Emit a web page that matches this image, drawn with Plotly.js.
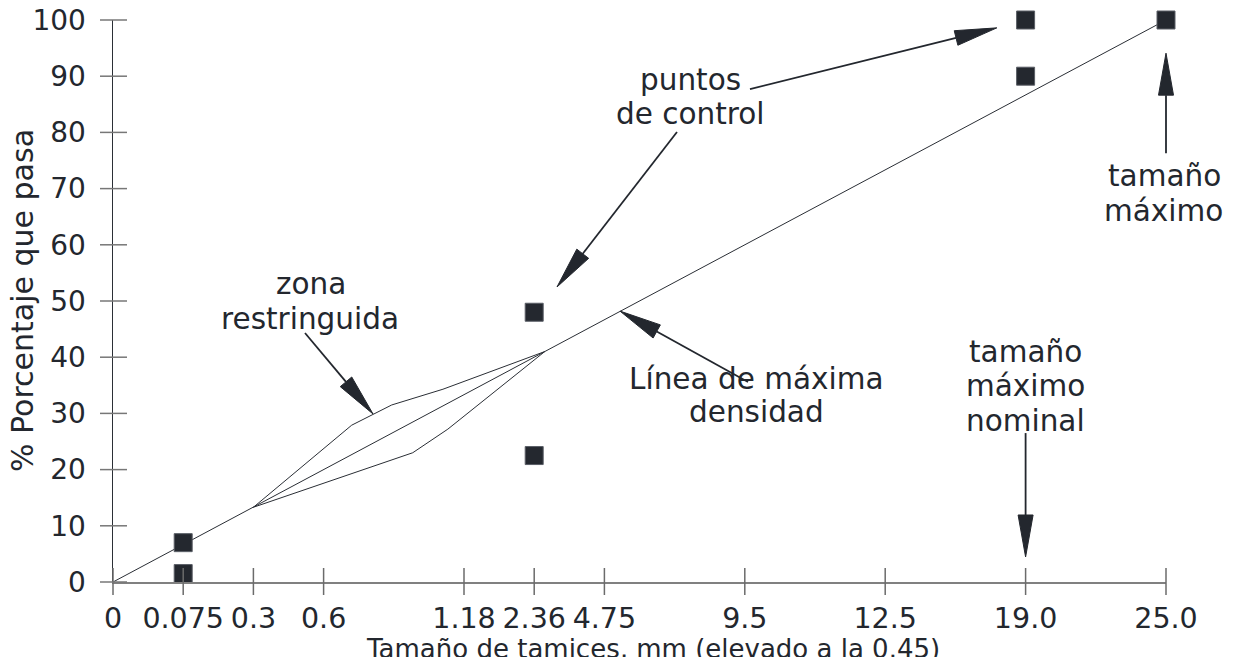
<!DOCTYPE html>
<html>
<head>
<meta charset="utf-8">
<script src="https://cdn.plot.ly/plotly-3.0.1.min.js"></script>
<style>html,body{margin:0;padding:0;background:#fff;}#chart{width:1234px;height:657px;}</style>
</head>
<body>
<div id="chart"></div>
<script>
// ---- data ----
const sieveLabels = ['0', '0.075', '0.3', '0.6', '1.18', '2.36', '4.75', '9.5', '12.5', '19.0', '25.0'];
const sievePos    = [0, 1, 2, 3, 5, 6, 7, 9, 11, 13, 15];   // schematic axis position (size^0.45 scale as drawn)
const yTicks      = [0, 10, 20, 30, 40, 50, 60, 70, 80, 90, 100];

const controlSieves = ['0.075', '0.075', '2.36', '2.36', '19.0', '19.0', '25.0'];
const controlPct    = [7, 1.5, 48, 22.5, 100, 90, 100];

const maxDensSieves = ['0', '25.0'];
const maxDensPct    = [0, 100];

const zoneUpperX = [2, 3.40, 3.97, 4.70, 6.15];
const zoneUpperY = [13.3, 27.9, 31.5, 34.3, 41.0];
const zoneLowerX = [2, 4.27, 4.77, 6.15];
const zoneLowerY = [13.3, 23.0, 27.2, 41.0];

const xTitle = 'Tamaño de tamices, mm (elevado a la 0.45)';
const yTitle = '% Porcentaje que pasa';

// labels
const labelTexts = ['puntos', 'de control', 'zona', 'restringuida', 'Línea de máxima', 'densidad',
                    'tamaño', 'máximo', 'tamaño', 'máximo', 'nominal'];
const labelX = [8.23, 8.23, 2.82, 2.81, 9.16, 9.16, 14.98, 14.96, 13.0, 13.0, 13.0];
const labelY = [89.4, 83.3, 52.94, 46.8, 36.1, 30.2, 72.2, 66.0, 40.93, 34.79, 28.65];

// arrows: tail -> tip
const arrowTailX = [2.735, 8.034, 9.074, 9.046, 15, 13];
const arrowTailY = [44.3, 80.07, 87.7, 35.6, 76.3, 26.5];
const arrowTipX  = [3.704, 6.325, 12.59, 7.222, 15, 13];
const arrowTipY  = [29.9, 52.5, 98.6, 48.2, 94.1, 4.45];

// ---- layout constants ----
const W = 1234, H = 657;
const M = {l: 113, r: 68, t: 20, b: 75};
const xr = [0, 15], yr = [0, 100];
const plotW = W - M.l - M.r, plotH = H - M.t - M.b;
const sx = plotW / (xr[1] - xr[0]), sy = plotH / (yr[1] - yr[0]);
const ink = '#23272e';
const FONT = 'DejaVu Sans';

const posOf = lab => sievePos[sieveLabels.indexOf(lab)];
const px = x => (x - xr[0]) / (xr[1] - xr[0]);
const py = y => (y - yr[0]) / (yr[1] - yr[0]);

const shapes = [];
// crossing tick marks on x axis
sievePos.forEach(p => shapes.push({type: 'line', xref: 'paper', yref: 'paper', ysizemode: 'pixel', yanchor: 0,
  x0: px(p), x1: px(p), y0: -13, y1: 14, line: {color: '#6b6b6b', width: 1.5}}));
// crossing tick marks on y axis
yTicks.forEach(v => shapes.push({type: 'line', xref: 'paper', yref: 'paper', xsizemode: 'pixel', xanchor: 0,
  y0: py(v), y1: py(v), x0: -13, x1: 14, line: {color: '#777777', width: 1.5}}));

// arrows
const headLen = 42, headHalf = 7.5;
arrowTipX.forEach((_, i) => {
  const tx = arrowTailX[i], ty = arrowTailY[i], hx = arrowTipX[i], hy = arrowTipY[i];
  const dx = (hx - tx) * sx, dy = (hy - ty) * sy;
  const len = Math.hypot(dx, dy), ux = dx / len, uy = dy / len;
  const bx = hx - ux * headLen / sx, by = hy - uy * headLen / sy;
  const c1x = bx + (-uy) * headHalf / sx, c1y = by + ux * headHalf / sy;
  const c2x = bx - (-uy) * headHalf / sx, c2y = by - ux * headHalf / sy;
  shapes.push({type: 'line', xref: 'paper', yref: 'paper', x0: px(tx), y0: py(ty), x1: px(bx), y1: py(by),
    line: {color: ink, width: 1.8}});
  shapes.push({type: 'path', xref: 'paper', yref: 'paper',
    path: `M${px(hx)},${py(hy)} L${px(c1x)},${py(c1y)} L${px(c2x)},${py(c2y)} Z`,
    fillcolor: ink, line: {color: ink, width: 1}});
});

const annotations = labelTexts.map((t, i) => ({
  text: t, x: labelX[i], y: labelY[i], xref: 'x', yref: 'y', showarrow: false,
  xanchor: 'center', yanchor: 'middle', font: {family: FONT, size: 29.5, color: ink}
}));
// axis titles (placed as in the reference, partly below the visible area for the x title)
annotations.push({text: xTitle, xref: 'paper', yref: 'paper', x: (653 - M.l) / plotW, y: -(649 - (H - M.b)) / plotH,
  xanchor: 'center', yanchor: 'middle', showarrow: false, font: {family: FONT, size: 26, color: ink}});
annotations.push({text: yTitle, xref: 'paper', yref: 'paper', x: (22 - M.l) / plotW, y: 0.5, textangle: -90,
  xanchor: 'center', yanchor: 'middle', showarrow: false, font: {family: FONT, size: 30, color: ink}});

const lineStyle = {color: '#2a2e35', width: 1};
const traces = [
  {x: maxDensSieves.map(posOf), y: maxDensPct, mode: 'lines', line: lineStyle, name: 'Línea de máxima densidad', hoverinfo: 'skip'},
  {x: zoneUpperX, y: zoneUpperY, mode: 'lines', line: lineStyle, name: 'zona restringuida (límite superior)', hoverinfo: 'skip'},
  {x: zoneLowerX, y: zoneLowerY, mode: 'lines', line: lineStyle, name: 'zona restringuida (límite inferior)', hoverinfo: 'skip'},
  {x: controlSieves.map(posOf), y: controlPct, mode: 'markers', name: 'puntos de control', cliponaxis: false,
   marker: {symbol: 'square', size: 18, color: '#24282f', line: {color: '#5a5e66', width: 1}}}
];

const layout = {
  width: W, height: H, margin: M, showlegend: false,
  paper_bgcolor: '#fff', plot_bgcolor: '#fff', hovermode: false,
  xaxis: {range: xr, showgrid: false, zeroline: false, showline: true, linecolor: '#808080', linewidth: 2,
    tickmode: 'array', tickvals: sievePos, ticktext: sieveLabels, tickangle: 0,
    ticks: 'outside', ticklen: 10, tickcolor: 'rgba(0,0,0,0)',
    automargin: false, fixedrange: true,
    tickfont: {family: FONT, size: 28.5, color: ink}},
  yaxis: {range: yr, showgrid: false, zeroline: false, showline: true, linecolor: '#2b2f36', linewidth: 1.5,
    tickmode: 'array', tickvals: yTicks, ticktext: yTicks.map(String),
    ticks: 'outside', ticklen: 20, tickcolor: 'rgba(0,0,0,0)',
    automargin: false, fixedrange: true,
    tickfont: {family: FONT, size: 28, color: ink}},
  shapes: shapes, annotations: annotations
};

Plotly.newPlot('chart', traces, layout, {displayModeBar: false, staticPlot: true});
</script>
</body>
</html>
